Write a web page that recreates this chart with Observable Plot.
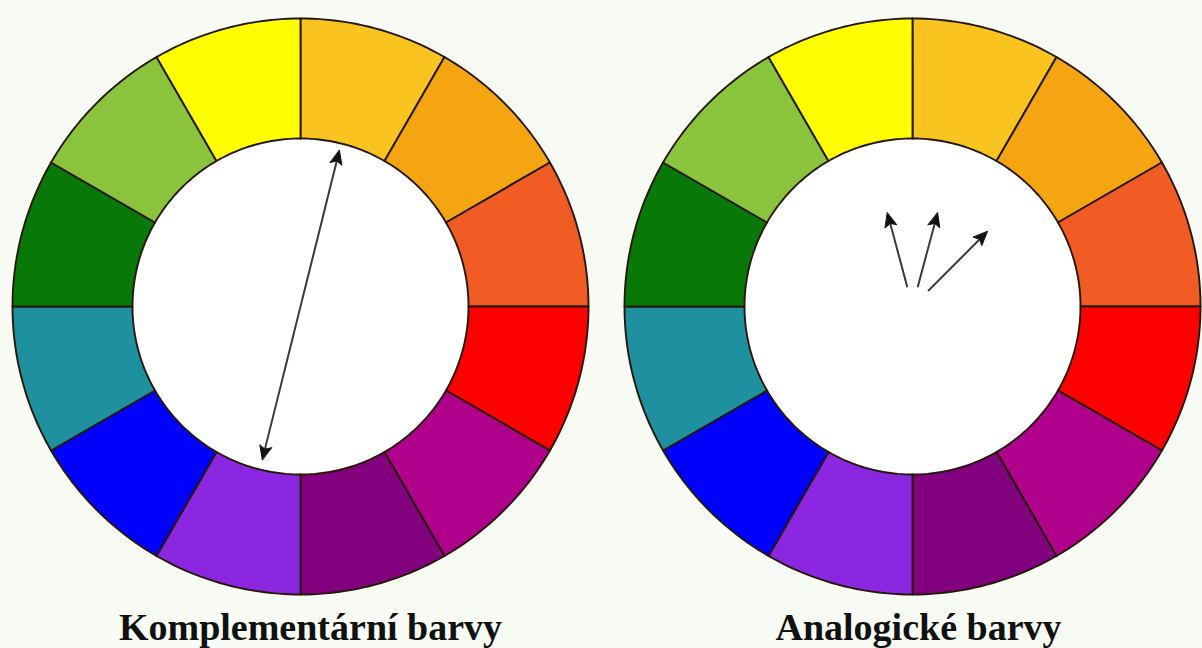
<!DOCTYPE html>
<html>
<head>
<meta charset="utf-8">
<script src="https://cdn.jsdelivr.net/npm/d3@7"></script>
<script src="https://cdn.jsdelivr.net/npm/@observablehq/plot@0.6"></script>
<style>
  html, body { margin: 0; padding: 0; background: #f7fbf4; }
  #chart { width: 1202px; height: 648px; }
</style>
</head>
<body>
<div id="chart"></div>
<script>
// ---- data ----
// 12 hue segments, clockwise from 12 o'clock
const hueNames = ["žlutooranžová","oranžová","červenooranžová","červená","červenofialová","fialová",
                  "modrofialová","modrá","modrozelená","zelená","žlutozelená","žlutá"];
const segmentColors = ["#f9c41f","#f6a512","#f15c24","#fe0000","#b0018c","#81017f",
                       "#8b27e0","#0000fd","#1f90a0","#087808","#8ac43d","#ffff01"];
const wheelTitles = ["Komplementární barvy", "Analogické barvy"];
const complementaryPair = [0, 6];          // segment indices joined by the double arrow
const analogousTargets = [11, 0, 1];        // segment indices the three arrows point to

// ---- layout ----
const W = 1202, H = 648;
const centers = [[300, 306], [912, 306]];
const rOuter = 288, rInner = 168;
const titleX = [310, 918], titleY = 639;
const compR = [161, 158];                   // tip radii of the double arrow
const analogR0 = [20, 20, 22], analogR1 = [97, 97, 106];
const headLen = 14, headHalf = 6;

const rad = d => d * Math.PI / 180;
const pt = (c, ang, r) => [c[0] + r * Math.sin(rad(ang)), c[1] - r * Math.cos(rad(ang))];

// ring segment polygons
const segRows = [];
centers.forEach((c, w) => {
  segmentColors.forEach((col, i) => {
    const a0 = i * 30, a1 = (i + 1) * 30, n = 24;
    const key = w + "-" + i;
    for (let k = 0; k <= n; k++) {
      const [x, y] = pt(c, a0 + (a1 - a0) * k / n, rOuter);
      segRows.push({key, color: col, name: hueNames[i], x, y});
    }
    for (let k = n; k >= 0; k--) {
      const [x, y] = pt(c, a0 + (a1 - a0) * k / n, rInner);
      segRows.push({key, color: col, name: hueNames[i], x, y});
    }
  });
});

// arrows: shafts + filled heads
const shafts = [], heads = [];
function addHead(id, tip, ang) {
  const [tx, ty] = tip;
  const ux = Math.sin(rad(ang)), uy = -Math.cos(rad(ang));
  const bx = tx - ux * headLen, by = ty - uy * headLen;
  const px = -uy, py = ux;
  heads.push({id, x: tx, y: ty});
  heads.push({id, x: bx + px * headHalf, y: by + py * headHalf});
  heads.push({id, x: bx + ux * 3, y: by + uy * 3});
  heads.push({id, x: bx - px * headHalf, y: by - py * headHalf});
  return [bx + ux * 3, by + uy * 3];
}
{
  const c = centers[0];
  const angA = complementaryPair[0] * 30 + 15 - 1, angB = complementaryPair[1] * 30 + 15 - 1;
  const tipA = pt(c, angA, compR[0]), tipB = pt(c, angB, compR[1]);
  const baseA = addHead("cA", tipA, angA), baseB = addHead("cB", tipB, angB);
  shafts.push({x1: baseA[0], y1: baseA[1], x2: baseB[0], y2: baseB[1]});
}
analogousTargets.forEach((s, j) => {
  const c = centers[1];
  const ang = s * 30 + 15;
  const start = pt(c, ang, analogR0[j]);
  const tip = pt(c, ang, analogR1[j]);
  const base = addHead("a" + j, tip, ang);
  shafts.push({x1: start[0], y1: start[1], x2: base[0], y2: base[1]});
});

const titles = wheelTitles.map((t, i) => ({t, x: titleX[i], y: titleY}));
const innerDiscs = centers.map(c => ({x: c[0], y: c[1]}));

const chart = Plot.plot({
  width: W, height: H,
  margin: 0,
  x: {domain: [0, W], range: [0, W], axis: null},
  y: {domain: [0, H], range: [0, H], axis: null},
  color: {type: "identity"},
  style: {background: "#f7fbf4", overflow: "visible"},
  marks: [
    Plot.dot(innerDiscs, {x: "x", y: "y", r: rInner, fill: "#ffffff", stroke: "none"}),
    Plot.line(segRows, {x: "x", y: "y", z: "key", fill: "color", stroke: "#26190b",
      strokeWidth: 1.9, strokeLinejoin: "round", curve: "linear-closed", title: "name"}),
    Plot.link(shafts, {x1: "x1", y1: "y1", x2: "x2", y2: "y2", stroke: "#3a3a3a", strokeWidth: 2}),
    Plot.line(heads, {x: "x", y: "y", z: "id", fill: "#111", stroke: "#111", strokeWidth: 1,
      curve: "linear-closed"}),
    Plot.text(titles, {x: "x", y: "y", text: "t", lineAnchor: "bottom", textAnchor: "middle",
      fontSize: 38, fontWeight: "bold", fontFamily: "'Liberation Serif', 'DejaVu Serif', serif",
      fill: "#111"})
  ]
});
document.getElementById("chart").appendChild(chart);
</script>
</body>
</html>
